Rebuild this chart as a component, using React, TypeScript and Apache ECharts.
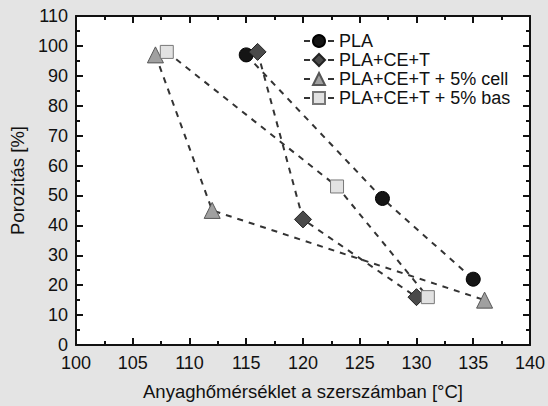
import React, { useEffect, useRef } from "react";
import * as echarts from "echarts";

const seriesNames = ["PLA", "PLA+CE+T", "PLA+CE+T + 5% cell", "PLA+CE+T + 5% bas"];
const plaX = [115, 127, 135];
const plaY = [97, 49, 22];
const ceX = [116, 120, 130];
const ceY = [98, 42, 16];
const cellX = [107, 112, 136];
const cellY = [97, 45, 15];
const basX = [108, 123, 131];
const basY = [98, 53, 16];

const xTicks = [100, 105, 110, 115, 120, 125, 130, 135, 140];
const yTicks = [0, 10, 20, 30, 40, 50, 60, 70, 80, 90, 100, 110];

export default function App() {
  const ref = useRef<HTMLDivElement>(null);
  useEffect(() => {
    if (!ref.current) return;
    const chart = echarts.init(ref.current, undefined, { renderer: "svg" });
    const font = "Liberation Sans, Arial, sans-serif";
    const zip = (xs: number[], ys: number[]) => xs.map((x, i) => [x, ys[i]]);
    const styles = [
      { symbol: "circle", size: 14, color: "#151515", border: "#000" },
      { symbol: "diamond", size: 17, color: "#4a4a4a", border: "#222" },
      { symbol: "triangle", size: 16, color: "#a0a0a0", border: "#555" },
      { symbol: "rect", size: 13, color: "#e2e2e2", border: "#777" },
    ];
    const datas = [zip(plaX, plaY), zip(ceX, ceY), zip(cellX, cellY), zip(basX, basY)];
    const series = seriesNames.map((name, i) => ({
      name,
      type: "line",
      data: datas[i],
      symbol: styles[i].symbol,
      symbolSize: styles[i].size,
      itemStyle: { color: styles[i].color, borderColor: styles[i].border, borderWidth: 1 },
      lineStyle: { color: "#333", width: 2, type: [6, 6] },
      z: 3,
    }));
    const axisCommon = {
      axisLine: { show: true, onZero: false, lineStyle: { color: "#111", width: 2 } },
      axisTick: { show: true, inside: true, length: 7, lineStyle: { color: "#111", width: 2 } },
      minorTick: { show: true, splitNumber: 2, length: 4, lineStyle: { color: "#111", width: 2 } },
      splitLine: { show: false },
    };
    chart.setOption({
      animation: false,
      backgroundColor: "#e4e4e4",
      grid: { left: 76, right: 13, top: 16, bottom: 59, show: true, backgroundColor: "#ffffff", borderWidth: 0 },
      legend: {
        orient: "vertical",
        left: 298,
        top: 27,
        itemGap: 1,
        itemWidth: 30,
        itemHeight: 15,
        data: seriesNames,
        textStyle: { fontFamily: font, fontSize: 18, color: "#111" },
      },
      xAxis: [
        {
          type: "value",
          min: xTicks[0],
          max: xTicks[xTicks.length - 1],
          interval: 5,
          name: "Anyaghőmérséklet a szerszámban [°C]",
          nameLocation: "middle",
          nameGap: 37,
          nameTextStyle: { fontFamily: font, fontSize: 18.5, color: "#111" },
          axisLabel: { fontFamily: font, fontSize: 18, color: "#111", margin: 9 },
          ...axisCommon,
        },
        {
          type: "value",
          position: "top",
          min: xTicks[0],
          max: xTicks[xTicks.length - 1],
          interval: 5,
          axisLabel: { show: false },
          ...axisCommon,
        },
      ],
      yAxis: [
        {
          type: "value",
          min: yTicks[0],
          max: yTicks[yTicks.length - 1],
          interval: 10,
          name: "Porozitás [%]",
          nameLocation: "middle",
          nameGap: 49,
          nameTextStyle: { fontFamily: font, fontSize: 18.5, color: "#111" },
          axisLabel: { fontFamily: font, fontSize: 18, color: "#111", margin: 8 },
          ...axisCommon,
        },
        {
          type: "value",
          position: "right",
          min: yTicks[0],
          max: yTicks[yTicks.length - 1],
          interval: 10,
          axisLabel: { show: false },
          ...axisCommon,
        },
      ],
      series,
    });
    return () => chart.dispose();
  }, []);
  return <div ref={ref} style={{ position: "fixed", left: 0, top: 0, width: 548, height: 406 }} />;
}
